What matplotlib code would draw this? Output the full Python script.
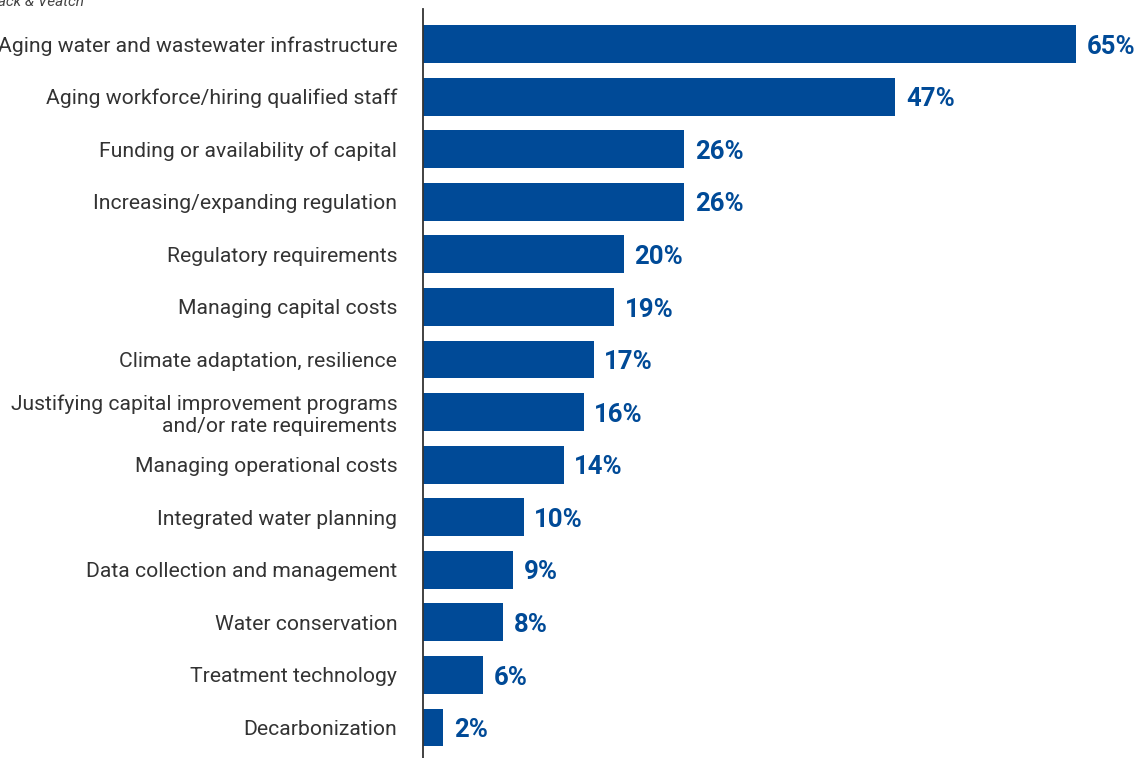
import matplotlib.pyplot as plt

# survey results: top challenges for water utilities
challenges = [
    'Aging water and wastewater infrastructure',
    'Aging workforce/hiring qualified staff',
    'Funding or availability of capital',
    'Increasing/expanding regulation',
    'Regulatory requirements',
    'Managing capital costs',
    'Climate adaptation, resilience',
    'Justifying capital improvement programs\nand/or rate requirements',
    'Managing operational costs',
    'Integrated water planning',
    'Data collection and management',
    'Water conservation',
    'Treatment technology',
    'Decarbonization',
]
percent = [65, 47, 26, 26, 20, 19, 17, 16, 14, 10, 9, 8, 6, 2]

bar_color = '#004A97'

plt.rcParams['font.family'] = ['Roboto', 'DejaVu Sans']

fig = plt.figure(figsize=(11.38, 7.58), dpi=100)
ax = fig.add_axes([423 / 1138, 0.0, 1 - 423 / 1138 - 0.01, 1 - 9 / 758])

y = list(range(len(challenges)))
ax.barh(y, percent, height=0.72, color=bar_color, zorder=2)

for yi, v in zip(y, percent):
    ax.text(v + 1.05, yi + 0.05, f'{v}%', va='center', ha='left',
            fontsize=18.5, fontweight='bold', color=bar_color)

ax.set_xlim(0, 70)
ax.set_ylim(13.58, -0.666)
ax.set_yticks(y)
ax.set_yticklabels(challenges, fontsize=15.2, color='#333333', linespacing=1.2)
ax.tick_params(axis='y', length=0, pad=18.5)
ax.set_xticks([])

for side in ['top', 'right', 'bottom']:
    ax.spines[side].set_visible(False)
ax.spines['left'].set_color('#333333')
ax.spines['left'].set_linewidth(1.3)
ax.spines['left'].set_zorder(3)

fig.text(-15 / 1138, 1 - 6 / 758, 'Black & Veatch', fontsize=11,
         style='italic', color='#444444', ha='left', va='baseline')

fig.savefig('out.png', dpi=100)
